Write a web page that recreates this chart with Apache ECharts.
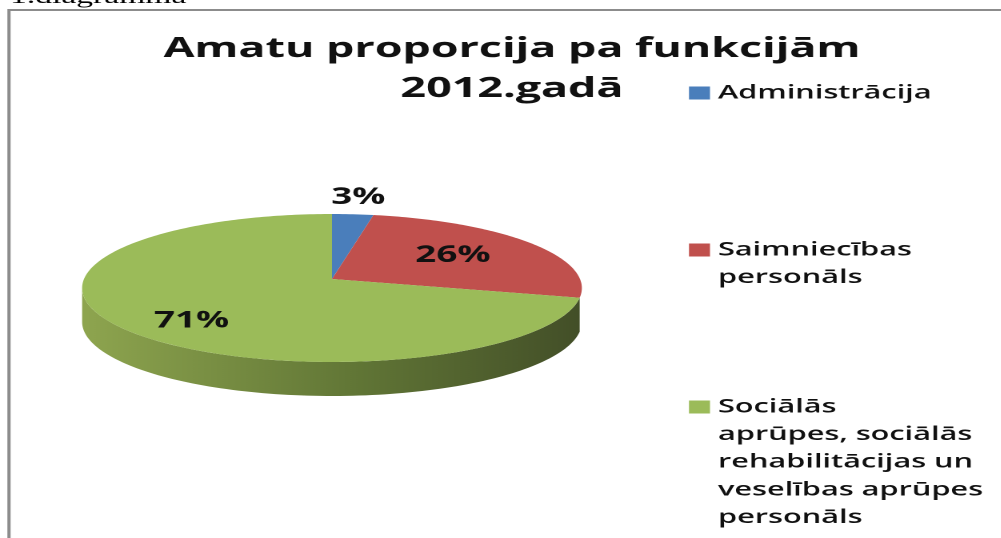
<!DOCTYPE html>
<html><head><meta charset="utf-8">
<style>
html,body{margin:0;padding:0;background:#fff;overflow:hidden;width:1001px;height:538px}
#c{width:626px;height:538px;transform-origin:0 0;transform:scaleX(1.6);filter:blur(0.4px)}
</style>
<script src="https://cdn.jsdelivr.net/npm/echarts@6/dist/echarts.min.js"></script>
</head><body><div id="c"></div>
<script>
const categories = ['Administrācija', 'Saimniecības\npersonāls', 'Sociālās\naprūpes, sociālās\nrehabilitācijas un\nveselības aprūpes\npersonāls'];
const shares = [3, 26, 71];
const colors = ['#4a7ebb', '#c0504d', '#9bbb59'];
const labelRadius = [1.3, 0.6, 0.68];
const labelNudgeY = [0, -1, 10];
const legendIconY = [93, 250, 407];

const S = 1.6; // the whole reference is stretched sideways; all x values below are divided by it
const LINE = 27.6;
const cx = 332 / S, cy = 279, A = 248 / S, B = 72.9, k = 0.1217, depth = 34;
const total = shares.reduce((a, b) => a + b, 0);
function project(theta, r) {
  const X = r * Math.sin(theta), Y = r * Math.cos(theta), w = 1 + k * Y;
  return [cx + A * X / w, cy - B * Y / w];
}
const rimRight = Math.acos(-k), rimLeft = 2 * Math.PI - rimRight;
function sliceRender(i) {
  return function () {
    const before = shares.slice(0, i).reduce((a, b) => a + b, 0);
    const t0 = before / total * 2 * Math.PI;
    const t1 = (before + shares[i]) / total * 2 * Math.PI;
    const top = [[cx, cy]];
    const n = Math.max(8, Math.ceil((t1 - t0) * 60));
    for (let j = 0; j <= n; j++) top.push(project(t0 + (t1 - t0) * j / n, 1));
    const children = [];
    const wallStart = Math.max(t0, rimRight), wallEnd = Math.min(t1, rimLeft);
    if (i === 2 && wallEnd > wallStart) {
      const upper = [], lower = [];
      for (let j = 0; j <= 120; j++) {
        const p = project(wallStart + (wallEnd - wallStart) * j / 120, 1);
        upper.push(p);
        lower.unshift([p[0], p[1] + depth]);
      }
      children.push({
        type: 'polygon', shape: { points: upper.concat(lower) },
        style: { fill: new echarts.graphic.LinearGradient(1, 0, 0, 0, [
          { offset: 0, color: '#434f28' }, { offset: 0.45, color: '#617636' }, { offset: 1, color: '#8ea54f' }
        ]) }
      });
    }
    children.push({ type: 'polygon', shape: { points: top }, style: { fill: colors[i] } });
    const lp = project((t0 + t1) / 2, labelRadius[i]);
    children.push({
      type: 'text', z2: 10,
      style: { x: lp[0], y: lp[1] + labelNudgeY[i], text: shares[i] + '%', align: 'center', verticalAlign: 'middle',
        fill: '#111', font: 'bold 23px "Open Sans"' }
    });
    return { type: 'group', children };
  };
}
const series = categories.map((name, i) => ({
  type: 'custom', name, coordinateSystem: 'none', silent: true, animation: false,
  data: [[shares[i]]], itemStyle: { color: colors[i] }, renderItem: sliceRender(i)
}));
const legends = categories.map((name, i) => {
  const lines = name.split('\n').length;
  return {
    show: true, data: [name], left: 689 / S, top: legendIconY[i] - (2 * lines - 1) * LINE / 2,
    orient: 'vertical', icon: 'rect', itemWidth: 21 / S, itemHeight: 13, itemGap: 0, padding: 0, selectedMode: false,
    formatter: n => '\n'.repeat(lines - 1) + n,
    textStyle: { fontFamily: 'Open Sans', fontWeight: 600, fontSize: 19.2, lineHeight: LINE, color: '#111' }
  };
});
const chart = echarts.init(document.getElementById('c'), null, { renderer: 'canvas', devicePixelRatio: 2 });
chart.setOption({
  backgroundColor: '#ffffff', animation: false,
  title: {
    text: 'Amatu proporcija pa funkcijām\n2012.gadā', left: 504 / S, top: 24, textAlign: 'center',
    textStyle: { fontFamily: 'Open Sans', fontWeight: 'bold', fontSize: 28, lineHeight: 40, color: '#111' }
  },
  legend: legends,
  series,
  graphic: [
    { type: 'rect', silent: true, shape: { x: 9 / S, y: 10, width: 900, height: 600 }, style: { fill: 'transparent', stroke: '#8c8c8c', lineWidth: 2 } },
    { type: 'text', silent: true, style: { x: 10 / S, y: -13, text: '1.diagramma', font: '21px "Liberation Serif"', fill: '#000' } }
  ]
});
</script></body></html>
